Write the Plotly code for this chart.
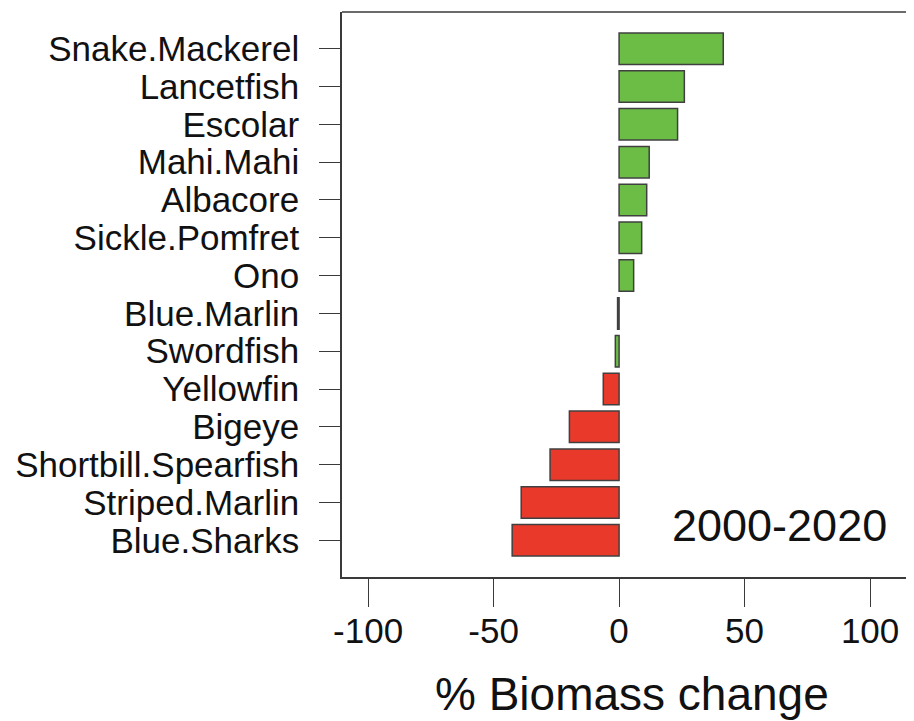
import plotly.graph_objects as go

species = ["Snake.Mackerel", "Lancetfish", "Escolar", "Mahi.Mahi", "Albacore",
           "Sickle.Pomfret", "Ono", "Blue.Marlin", "Swordfish", "Yellowfin",
           "Bigeye", "Shortbill.Spearfish", "Striped.Marlin", "Blue.Sharks"]
change = [41.5, 26, 23.3, 12, 11, 9, 5.8, -0.6, -1.5, -6.3,
          -19.8, -27.5, -39, -42.6]
tick_vals = [-100, -50, 0, 50, 100]
tick_text = ["-100", "-50", "0", "50", "100"]
period_label = "2000-2020"
x_title = "% Biomass change"

GREEN = "#6bbd45"
RED = "#e8392a"
colors = [GREEN if v > -3 else RED for v in change]

FONT = "Liberation Sans, Arial, Helvetica, sans-serif"
AX = "#3a3a3a"

order = list(reversed(species))

fig = go.Figure(go.Bar(
    x=change, y=species, orientation="h",
    marker=dict(color=colors, line=dict(color="#404040", width=1.5)),
))

# page has an 8px body margin, so the figure is drawn 8px in from the corner
W, H = 906, 713
L, T, B = 334, 4, 144
fig.update_layout(
    width=W, height=H,
    margin=dict(l=L, r=0, t=T, b=B, pad=0, autoexpand=False),
    paper_bgcolor="white", plot_bgcolor="white",
    bargap=0.167, showlegend=False,
    font=dict(family=FONT, color="#111111"),
)
fig.update_xaxes(
    range=[-110.4, 117.5], tickvals=tick_vals, ticktext=tick_text,
    showgrid=False, zeroline=False, automargin=False,
    showline=True, linecolor=AX, linewidth=1.6,
    ticks="outside", ticklen=28, tickwidth=1.3, tickcolor=AX,
    tickfont=dict(size=35, family=FONT, color="#111111"),
    ticklabelstandoff=-6,
)
fig.update_yaxes(
    type="category", categoryorder="array", categoryarray=order,
    tickmode="array", tickvals=order, ticktext=order,
    range=[-0.97, 13.97],
    showgrid=False, zeroline=False, automargin=False,
    showline=True, linecolor=AX, linewidth=1.6,
    ticks="outside", ticklen=21, tickwidth=1.3, tickcolor=AX,
    tickfont=dict(size=35, family=FONT, color="#111111"),
    ticklabelstandoff=13,
)
# top border of the box (right side lies outside the cropped picture)
fig.add_shape(type="line", xref="paper", yref="paper", x0=0, x1=1, y0=1, y1=1,
              line=dict(color=AX, width=1.6))

fig.add_annotation(x=64.1, y=0.38, xref="x", yref="y", text=period_label,
                   showarrow=False, xanchor="center", yanchor="middle",
                   font=dict(size=45, family=FONT, color="#111111"))
fig.add_annotation(x=0.507, y=-0.207, xref="paper", yref="paper", text=x_title,
                   showarrow=False, xanchor="center", yanchor="middle",
                   font=dict(size=46, family=FONT, color="#111111"))

fig.write_html("out.html")
